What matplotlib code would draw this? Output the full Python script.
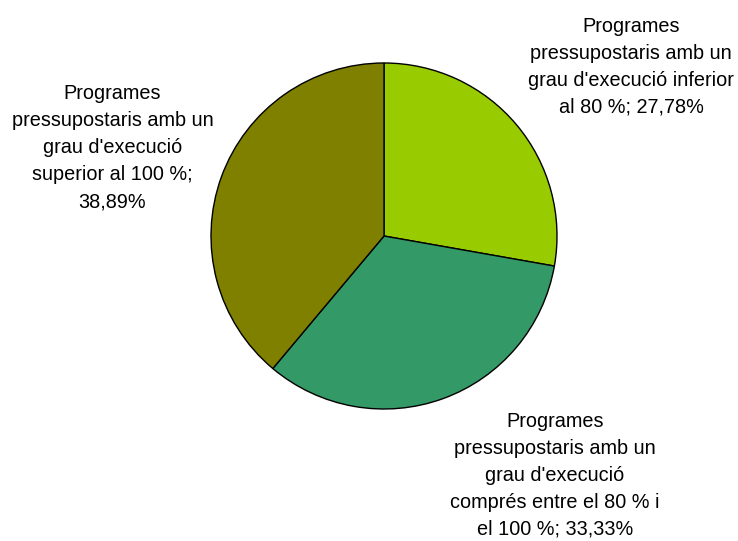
import numpy as np
import matplotlib
matplotlib.use('Agg')
import matplotlib.pyplot as plt

# dades del gràfic
categories = [
    "Programes\npressupostaris amb un\ngrau d'execució inferior\nal 80 %",
    "Programes\npressupostaris amb un\ngrau d'execució\ncomprés entre el 80 % i\nel 100 %",
    "Programes\npressupostaris amb un\ngrau d'execució\nsuperior al 100 %;\n",
]
values = [27.78, 33.33, 38.89]
pct_labels = ['27,78%', '33,33%', '38,89%']
colors = ['#99CC00', '#339966', '#808000']

fig = plt.figure(figsize=(7.38, 5.41), dpi=100)
ax = fig.add_axes([0, 0, 1, 1])

cx, cy, r = 384, 305, 173
wedges, _ = ax.pie(values, colors=colors, startangle=90, counterclock=False,
                   center=(cx, cy), radius=r, frame=True,
                   wedgeprops=dict(edgecolor='black', linewidth=1.0))
ax.set_xlim(0, 738)
ax.set_ylim(0, 541)
ax.set_aspect('equal')
ax.axis('off')

# text de les etiquetes
texts = [
    categories[0] + '; ' + pct_labels[0],
    categories[1] + '; ' + pct_labels[1],
    categories[2] + pct_labels[2],
]
# posició de cada etiqueta: angle mitjà de la porció (+ desplaçament) i distància relativa
dist = [1.73, 1.70, 1.65]
shift = [-5.6, 15.5, 2.0]
for w, t, d, s in zip(wedges, texts, dist, shift):
    ang = np.deg2rad((w.theta1 + w.theta2) / 2 + s)
    x = cx + d * r * np.cos(ang)
    y = cy + d * r * np.sin(ang)
    ax.text(x, y, t, ha='center', va='center', fontsize=14.3,
            family='Liberation Sans', linespacing=1.53, color='black')

fig.savefig('out.png', dpi=100)
